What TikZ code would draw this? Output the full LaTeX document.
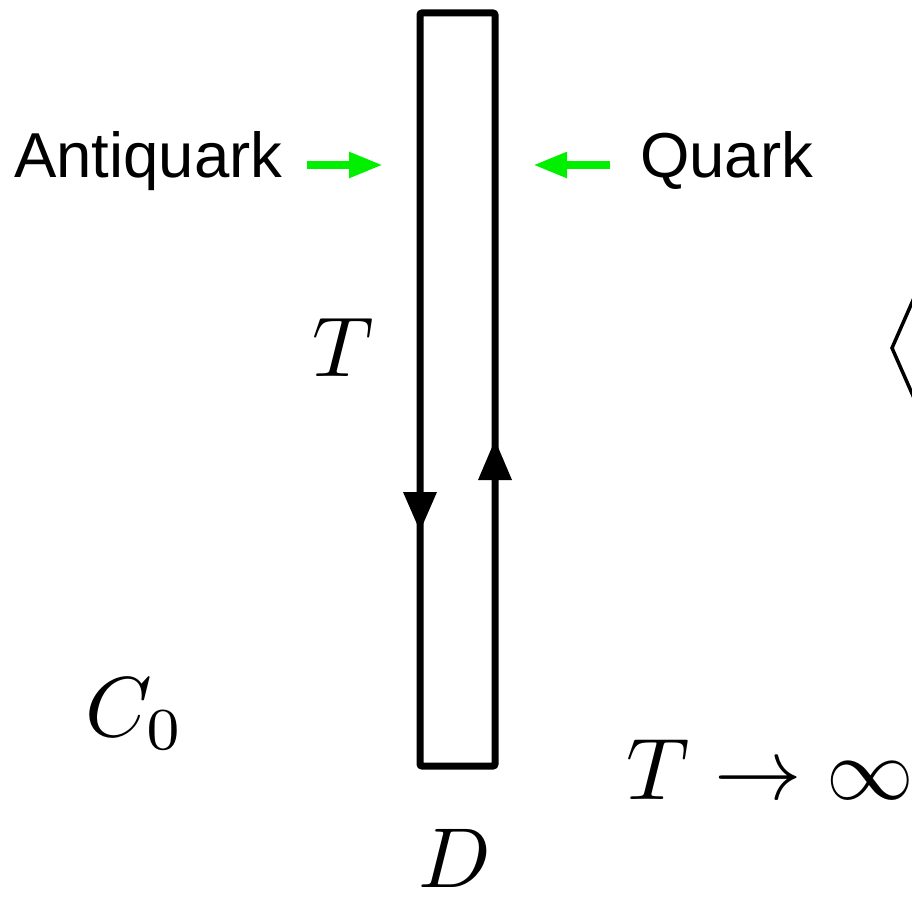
\documentclass[tikz,border=0pt]{standalone}
\usepackage{fontspec}
\newfontfamily\labelsans{Liberation Sans}
\usetikzlibrary{arrows.meta}
\definecolor{qgreen}{RGB}{0,240,0}
\tikzset{
  loopline/.style={line width=7pt, rounded corners=2pt},
  tipdown/.style={fill=black},
  greenarrow/.style={qgreen, line width=8pt, -{Triangle[length=34pt,width=24pt]}},
  sanslabel/.style={inner sep=0pt, font=\labelsans\fontsize{63.5}{63.5}\selectfont},
  mathlabel/.style={inner sep=0pt, scale=8.5},
}
\begin{document}
\begin{tikzpicture}[x=1pt,y=-1pt]
\useasboundingbox[fill=white] (0,0) rectangle (912,904);
% Wilson loop rectangle
\draw[loopline] (420,13) rectangle (495,766);
% direction triangles
\fill[tipdown] (403,492) -- (437,492) -- (420,531) -- cycle;
\fill[tipdown] (478,480) -- (512,480) -- (495,440) -- cycle;
% labels
\node[sanslabel, anchor=base west] (anti) at (14,178) {Antiquark};
\node[sanslabel, anchor=base west] (quark) at (640,178) {Quark};
\coordinate (a1) at (307,165);
\coordinate (a2) at (383,165);
\coordinate (q1) at (610,165);
\coordinate (q2) at (533,165);
\draw[greenarrow] (a1) -- (a2);
\draw[greenarrow] (q1) -- (q2);
\node[mathlabel] (T) at (343,347) {$T$};
\node[mathlabel] (C0) at (135,714) {$C_0$};
\node[mathlabel, scale=1.03, anchor=west] (Tinf) at (625,770) {$T\to\infty$};
\node[mathlabel] (D) at (455,858) {$D$};
% partial angle bracket at right edge
\draw[line width=3.5pt, line join=miter] (914,298) -- (892,348) -- (914,398);
\end{tikzpicture}
\end{document}
